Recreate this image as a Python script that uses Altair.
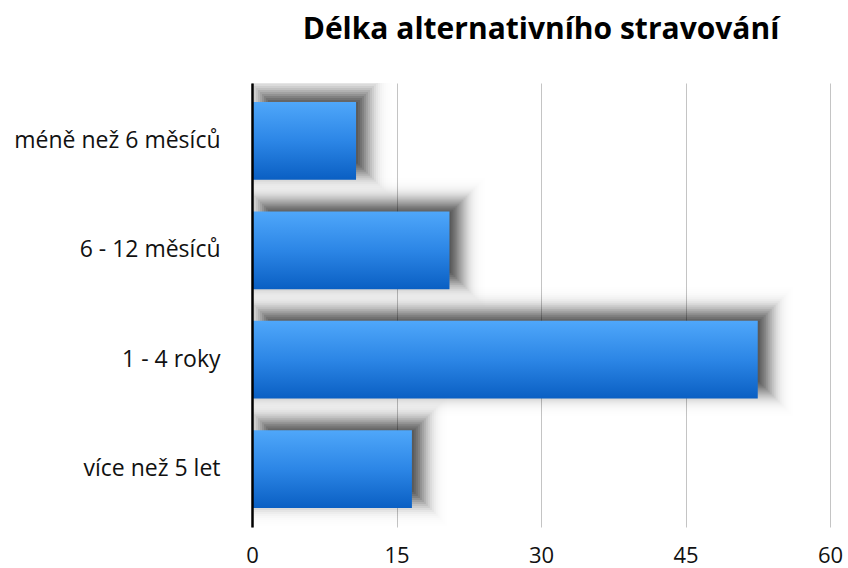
import math
import altair as alt
import pandas as pd

categories = ["méně než 6 měsíců", "6 - 12 měsíců", "1 - 4 roky", "více než 5 let"]
values = [10.8, 20.5, 52.5, 16.6]
x_ticks = [0, 15, 30, 45, 60]
title_text = "Délka alternativního stravování"

df = pd.DataFrame({
    "cat": categories,
    "val": values,
    "zero": [0] * len(values),
    "idx": list(range(len(categories))),
})

FONT = "Open Sans"
PLOT_W, PLOT_H = 578, 444
P_IN, P_OUT = 0.29, 0.174
STEP = PLOT_H / (len(categories) - P_IN + 2 * P_OUT)
BW = STEP * (1 - P_IN)
C0 = P_OUT * STEP + BW / 2          # pixel centre of first band
IDX_LO = -C0 / STEP
IDX_HI = IDX_LO + PLOT_H / STEP

y_enc = alt.Y(
    "cat:N",
    sort=categories,
    scale=alt.Scale(paddingInner=P_IN, paddingOuter=P_OUT),
    axis=alt.Axis(
        title=None, labelFont=FONT, labelFontSize=23, labelColor="#111111",
        labelPadding=32, labelLimit=400, ticks=False, tickSize=0, domain=True,
        domainColor="#000000", domainWidth=2.5, grid=False, zindex=1,
    ),
)
x_enc = alt.X(
    "val:Q",
    scale=alt.Scale(domain=[0, 60], nice=False, zero=True),
    axis=alt.Axis(
        title=None, values=x_ticks, labelFont=FONT, labelFontSize=22,
        labelColor="#111111", labelPadding=18, labelFlush=False,
        ticks=False, tickSize=0,
        domain=False, grid=True, gridColor="#c4c4c4", gridWidth=1,
    ),
)
y_idx = alt.Y(
    "idx:Q",
    scale=alt.Scale(domain=[IDX_LO, IDX_HI], nice=False, zero=False, reverse=True),
    axis=None,
)

base = alt.Chart(df)

# soft drop shadow: nested translucent rectangles approximating a gaussian blur
SH_DX, SH_DY, SIGMA, MAXD = 10, -8, 10.0, 0.76
radii = list(range(-30, 33, 2))


def dark(d):
    return MAXD * 0.5 * math.erfc(d / (SIGMA * math.sqrt(2)))


S = [1 - dark(r - 1) for r in radii] + [1.0]
shadow_layers = []
for k, r in enumerate(radii):
    a = 1 - S[k] / S[k + 1]
    if a <= 0.002:
        continue
    shadow_layers.append(
        base.mark_rect(
            fill="#000000", opacity=a,
            xOffset=SH_DX + r, x2Offset=SH_DX - r,
            yOffset=SH_DY - BW / 2 - r, y2Offset=SH_DY + BW / 2 + r,
            clip=True,
        ).encode(x=x_enc, x2="zero:Q", y=y_idx, y2="idx:Q")
    )

bars = base.mark_bar(
    color=alt.Gradient(
        gradient="linear",
        stops=[
            alt.GradientStop(color="#4fa7fa", offset=0),
            alt.GradientStop(color="#2c86e6", offset=0.5),
            alt.GradientStop(color="#0a5fc3", offset=1),
        ],
        x1=0, x2=0, y1=0, y2=1,
    )
).encode(x=x_enc, y=y_enc)

chart = alt.layer(*shadow_layers, bars).resolve_scale(y="independent").properties(
    width=PLOT_W,
    height=PLOT_H,
    title=alt.TitleParams(
        text=title_text, font=FONT, fontSize=30, fontWeight="bold",
        color="#000000", anchor="middle", offset=38,
    ),
    autosize=alt.AutoSizeParams(type="none"),
    padding={"left": 252, "top": 83, "right": 18, "bottom": 41},
).configure(background="white", view=alt.ViewConfig(stroke=None))

chart.save("out.html", embed_options={"renderer": "svg", "actions": False})
